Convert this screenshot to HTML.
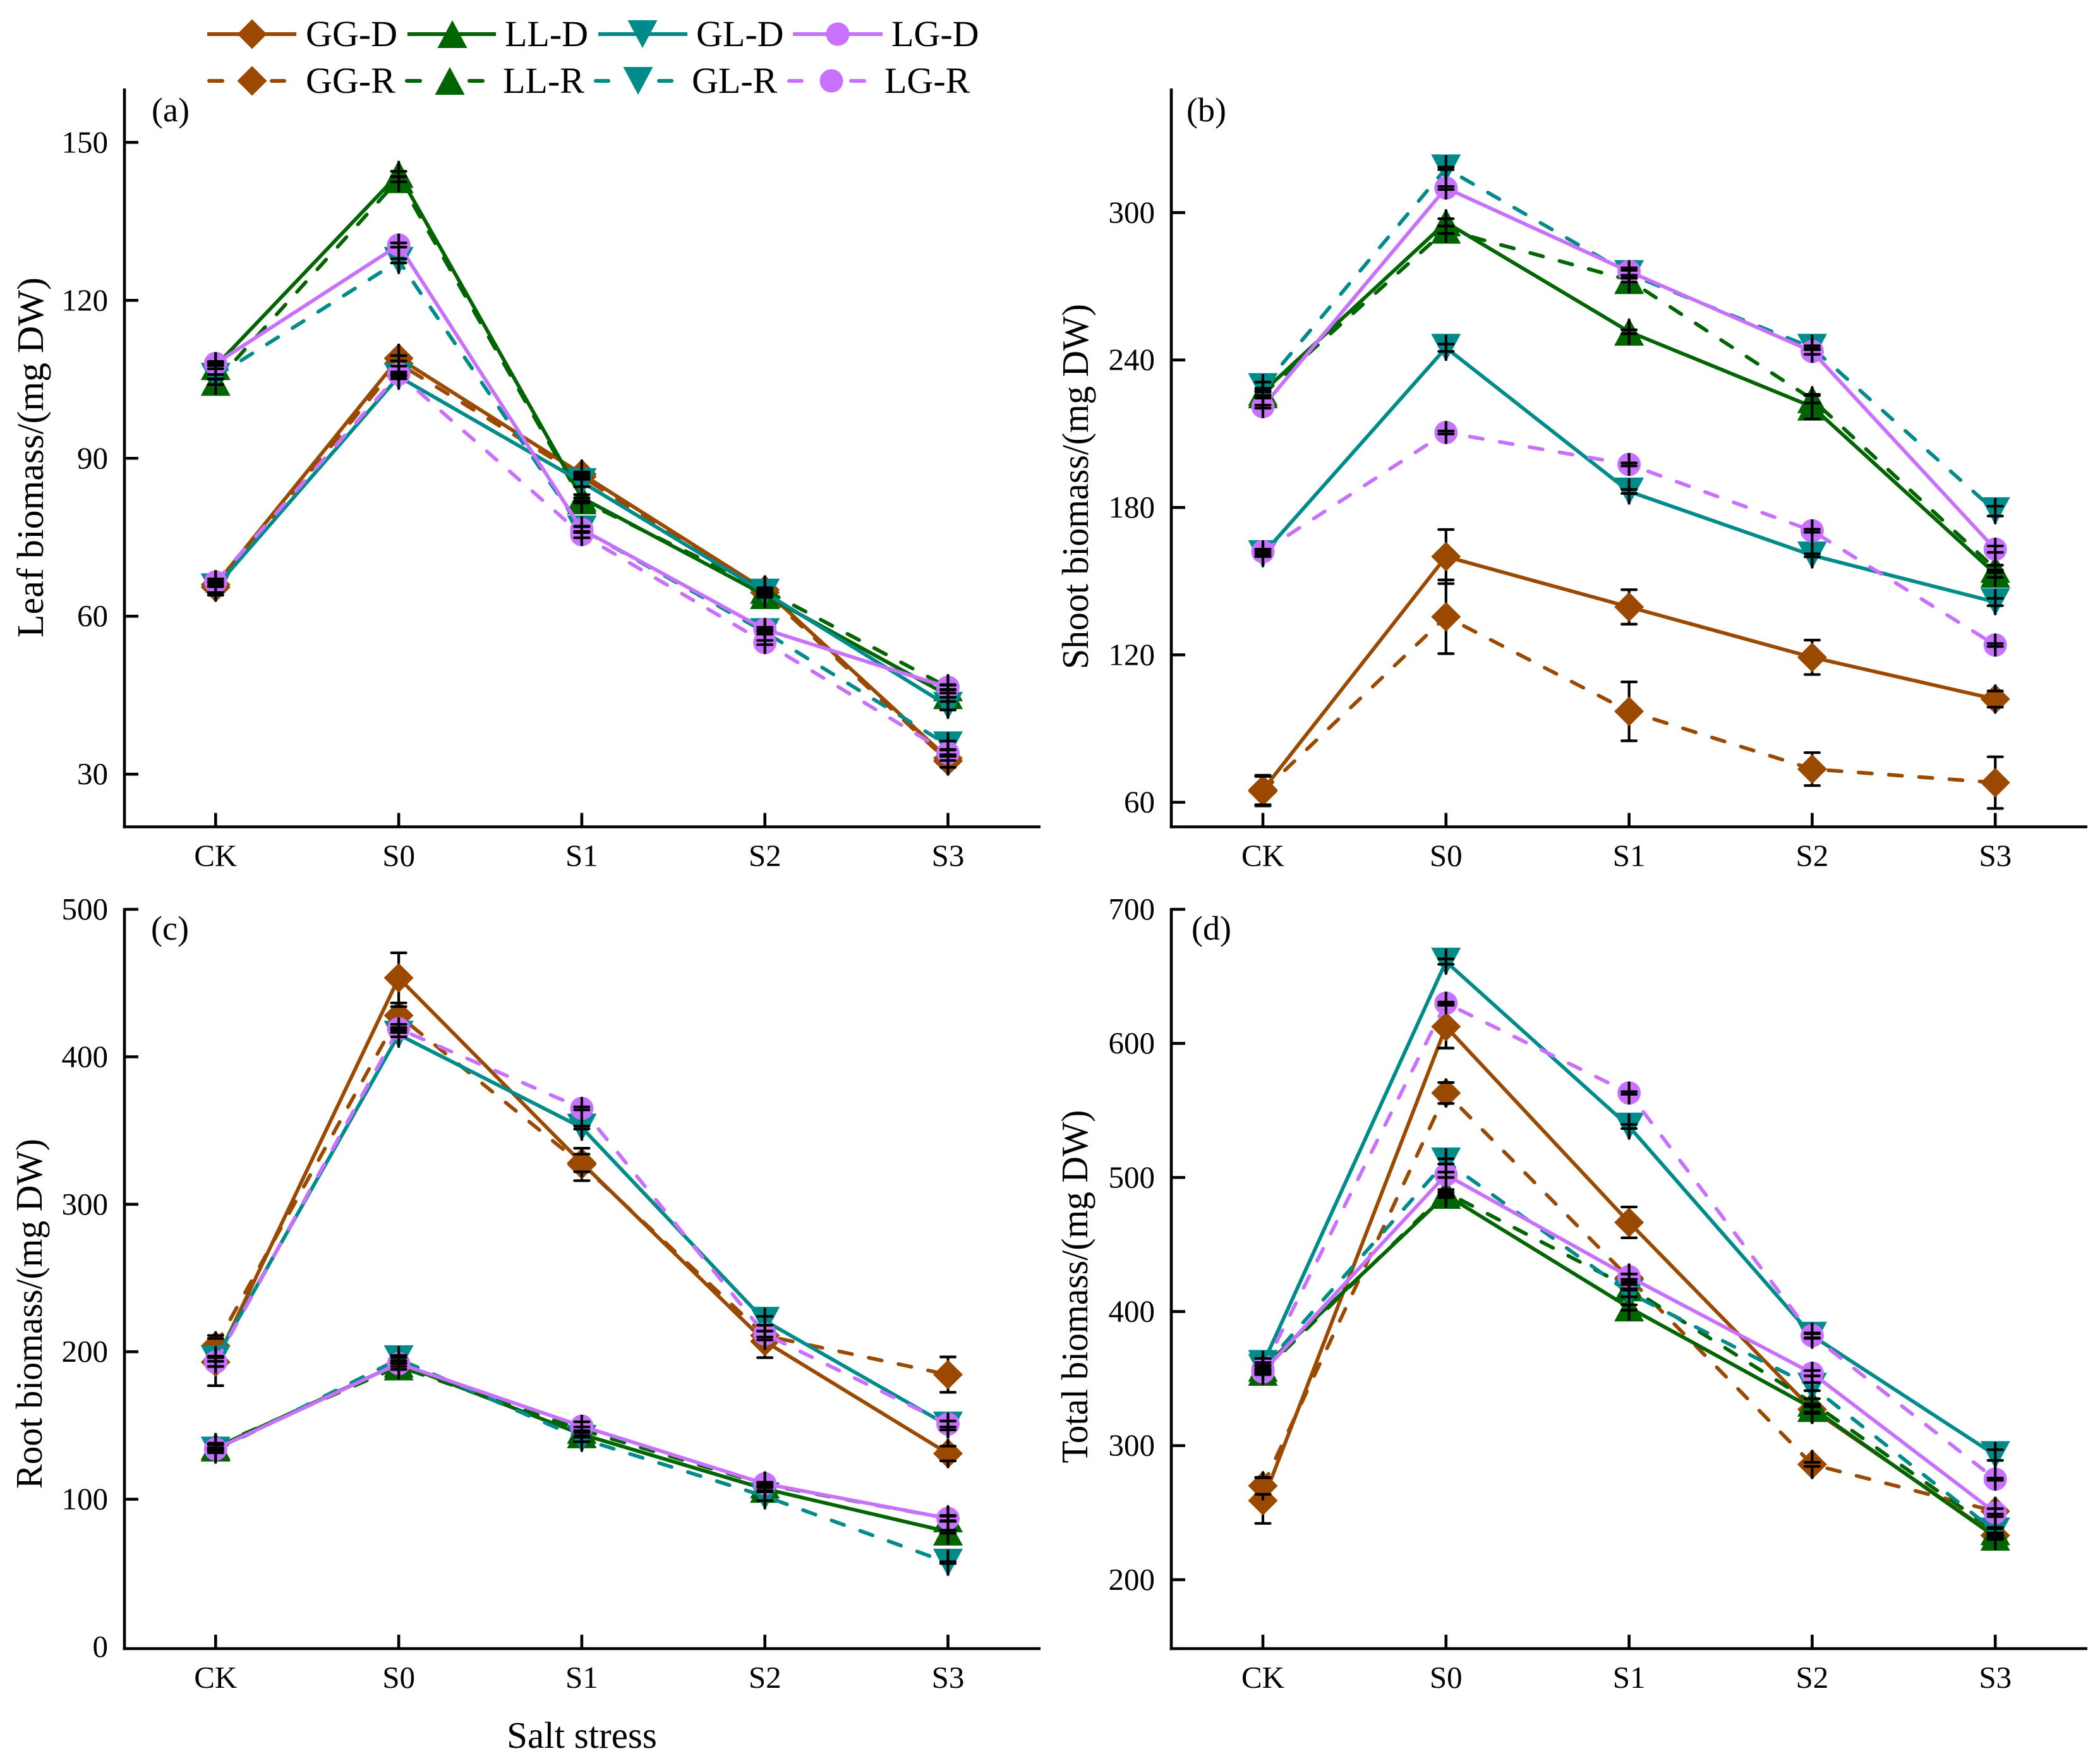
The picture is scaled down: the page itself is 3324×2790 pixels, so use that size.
<!DOCTYPE html>
<html lang="en">
<head>
<meta charset="utf-8">
<title>Biomass under salt stress</title>
<style>
html,body{margin:0;padding:0;background:#fff;}
svg{display:block;font-family:"Liberation Serif",serif;}
</style>
</head>
<body>
<svg id="figure" xmlns="http://www.w3.org/2000/svg" width="3324" height="2790" viewBox="0 0 3324 2790">
<rect x="0" y="0" width="3324" height="2790" fill="#ffffff"/>
<text x="921" y="2766" font-size="59" text-anchor="middle">Salt stress</text>
</svg>
<script>
// ---------- categories and tick labels ----------
const categories = ['CK', 'S0', 'S1', 'S2', 'S3'];
const leafTicks = [30, 60, 90, 120, 150];
const shootTicks = [60, 120, 180, 240, 300];
const rootTicks = [0, 100, 200, 300, 400, 500];
const totalTicks = [200, 300, 400, 500, 600, 700];
const leafDomain = [20, 160];
const shootDomain = [50, 350];
const rootDomain = [-1.3, 500];
const totalDomain = [148.6, 700];

// ---------- (a) leaf biomass ----------
const leafGGD = [66, 109, 87, 65, 33];
const leafGGR = [65.5, 108, 86.5, 64.5, 32.5];
const leafLLD = [107.5, 144, 82.5, 64, 45];
const leafLLR = [104.5, 143, 82, 65, 46.5];
const leafGLD = [65.5, 105.5, 85.5, 64.5, 43];
const leafGLR = [105.5, 127.5, 76.5, 57, 35.5];
const leafLGD = [108, 130.5, 76.5, 57.5, 46.5];
const leafLGR = [66.5, 106, 75.5, 55, 34];
const leafGGDerr = [0.4, 0.5, 0.4, 0.4, 0.4];
const leafGGRerr = [1.5, 0.5, 0.5, 0.4, 1.2];
const leafLLDerr = [0.5, 0.5, 0.6, 0.4, 0.4];
const leafLLRerr = [0.5, 0.5, 0.5, 0.4, 0.4];
const leafGLDerr = [1, 0.4, 0.9, 0.4, 0.8];
const leafGLRerr = [0.4, 0.4, 0.5, 0.4, 0.8];
const leafLGDerr = [0.4, 0.4, 0.6, 0.4, 0.5];
const leafLGRerr = [0.6, 0.4, 0.6, 0.4, 0.6];

// ---------- (b) shoot biomass ----------
const shootGGD = [65, 160, 139.5, 119, 102];
const shootGGR = [64.5, 135.5, 97, 73.5, 68];
const shootLLD = [227, 296, 251.5, 221, 153];
const shootLLR = [226, 293, 272.5, 224, 155];
const shootGLD = [161, 245, 186.5, 160.5, 141.5];
const shootGLR = [229, 318, 275, 245, 178.5];
const shootLGD = [221, 310, 276, 243.5, 163];
const shootLGR = [162, 210.5, 197.5, 170.5, 124];
const shootGGDerr = [6, 11, 7, 7, 3.3];
const shootGGRerr = [6, 15, 12, 6.7, 10.5];
const shootLLDerr = [1.5, 1.5, 0.8, 5, 1.5];
const shootLLRerr = [1.5, 1.5, 0.8, 1.5, 1.5];
const shootGLDerr = [1, 1.5, 0.8, 0.6, 1.5];
const shootGLRerr = [2, 0.5, 1.5, 0.8, 2];
const shootLGDerr = [0.6, 0.6, 1.5, 1.2, 1.3];
const shootLGRerr = [1, 0.6, 0.6, 0.6, 0.6];

// ---------- (c) root biomass ----------
const rootGGD = [193, 453.5, 328, 207, 131];
const rootGGR = [204, 428, 327, 211, 184.5];
const rootLLD = [135, 192, 144, 107, 78];
const rootLLR = [136, 190, 147, 110, 87];
const rootGLD = [195, 415, 352, 221, 150];
const rootGLR = [133, 195, 141, 102, 57];
const rootLGD = [134, 192, 149.5, 110.5, 87];
const rootLGR = [193, 419, 365, 212, 151];
const rootGGDerr = [16, 17, 6, 11, 5];
const rootGGRerr = [7, 6, 11, 3, 12];
const rootLLDerr = [2, 2, 2, 1, 1];
const rootLLRerr = [2, 2, 2, 1, 1.5];
const rootGLDerr = [1.5, 1.5, 1, 3, 3];
const rootGLRerr = [1.5, 2.5, 2, 3, 0.6];
const rootLGDerr = [1, 4, 3, 1, 2];
const rootLGRerr = [3, 0.8, 1, 2, 2];

// ---------- (d) total biomass ----------
const totalGGD = [259, 612.5, 466.5, 327, 233];
const totalGGR = [270, 563, 425, 286, 251];
const totalLLD = [358, 487, 403, 328, 232];
const totalLLR = [355, 489, 418, 332, 236];
const totalGLD = [361, 661, 538, 382, 293];
const totalGLR = [358, 512, 414, 344, 236];
const totalLGD = [355, 502, 426, 354, 250];
const totalLGR = [357, 630, 563, 382, 275];
const totalGGDerr = [17, 16, 11.5, 3, 2];
const totalGGRerr = [6.3, 7.8, 3, 1.5, 2];
const totalLLDerr = [2, 2, 2, 3, 2];
const totalLLRerr = [2, 2, 2, 3, 2];
const totalGLDerr = [4, 2, 1.5, 2, 4];
const totalGLRerr = [4, 2, 3, 3, 3];
const totalLGDerr = [2, 2, 2, 2, 3];
const totalLGRerr = [2, 0.8, 1, 1.5, 0.8];

// ---------- series styling ----------
const seriesNames = ['GG-D', 'GG-R', 'LL-D', 'LL-R', 'GL-D', 'GL-R', 'LG-D', 'LG-R'];
const BROWN = '#9c4900', GREEN = '#006400', TEAL = '#008b8b', PURPLE = '#c971ff';
const seriesColors = [BROWN, BROWN, GREEN, GREEN, TEAL, TEAL, PURPLE, PURPLE];
const seriesShapes = ['diamond', 'diamond', 'up', 'up', 'down', 'down', 'circle', 'circle'];

const panels = [
  { id: 'leaf', label: '(a)', title: 'Leaf biomass/(mg DW)', ticks: leafTicks, domain: leafDomain,
    values: [leafGGD, leafGGR, leafLLD, leafLLR, leafGLD, leafGLR, leafLGD, leafLGR],
    errors: [leafGGDerr, leafGGRerr, leafLLDerr, leafLLRerr, leafGLDerr, leafGLRerr, leafLGDerr, leafLGRerr],
    left: 197, right: 1647, top: 142, bottom: 1308.5, x0: 341.3, step: 289.8, titleX: 68, titleY: 724, titleLen: 570, labelX: 240, labelY: 192 },
  { id: 'shoot', label: '(b)', title: 'Shoot biomass/(mg DW)', ticks: shootTicks, domain: shootDomain,
    values: [shootGGD, shootGGR, shootLLD, shootLLR, shootGLD, shootGLR, shootLGD, shootLGR],
    errors: [shootGGDerr, shootGGRerr, shootLLDerr, shootLLRerr, shootGLDerr, shootGLRerr, shootLGDerr, shootLGRerr],
    left: 1854, right: 3304, top: 142, bottom: 1308.5, x0: 1999, step: 289.8, titleX: 1722, titleY: 770, titleLen: 578, labelX: 1878, labelY: 192 },
  { id: 'root', label: '(c)', title: 'Root biomass/(mg DW)', ticks: rootTicks, domain: rootDomain,
    values: [rootGGD, rootGGR, rootLLD, rootLLR, rootGLD, rootGLR, rootLGD, rootLGR],
    errors: [rootGGDerr, rootGGRerr, rootLLDerr, rootLLRerr, rootGLDerr, rootGLRerr, rootLGDerr, rootLGRerr],
    left: 197, right: 1647, top: 1439, bottom: 2609, x0: 341.3, step: 289.8, titleX: 66, titleY: 2079, titleLen: 554, labelX: 239, labelY: 1487 },
  { id: 'total', label: '(d)', title: 'Total biomass/(mg DW)', ticks: totalTicks, domain: totalDomain,
    values: [totalGGD, totalGGR, totalLLD, totalLLR, totalGLD, totalGLR, totalLGD, totalLGR],
    errors: [totalGGDerr, totalGGRerr, totalLLDerr, totalLLRerr, totalGLDerr, totalGLRerr, totalLGDerr, totalLGRerr],
    left: 1854, right: 3304, top: 1439, bottom: 2609, x0: 1999, step: 289.8, titleX: 1721, titleY: 2036, titleLen: 559, labelX: 1886, labelY: 1487 }
];

const svg = document.getElementById('figure');
const NS = 'http://www.w3.org/2000/svg';

function make(tag, props, parent) {
  const el = document.createElementNS(NS, tag);
  for (const k in props) el.setAttribute(k, props[k]);
  parent.appendChild(el);
  return el;
}

function drawMarker(shape, x, y, color, parent, name) {
  let el;
  if (shape === 'circle') {
    el = make('circle', { cx: x, cy: y, r: 18.5, fill: color }, parent);
  } else {
    let pts;
    if (shape === 'diamond') pts = [[x, y - 23.5], [x + 23.5, y], [x, y + 23.5], [x - 23.5, y]];
    if (shape === 'up') pts = [[x, y - 22], [x + 23.5, y + 22], [x - 23.5, y + 22]];
    if (shape === 'down') pts = [[x, y + 22], [x + 23.5, y - 22], [x - 23.5, y - 22]];
    el = make('polygon', { points: pts.map(p => p.join(',')).join(' '), fill: color }, parent);
  }
  
  
  return el;
}

function blackLine(x1, y1, x2, y2, parent, name, cap) {
  const el = make('line', { x1, y1, x2, y2, stroke: '#000', 'stroke-width': 4.2, 'stroke-linecap': cap }, parent);
  
  
  return el;
}

panels.forEach(function (p) {
  const group = make('g', {}, svg);
  
  
  const xScale = i => p.x0 + i * p.step;
  const yScale = v => p.bottom - (v - p.domain[0]) / (p.domain[1] - p.domain[0]) * (p.bottom - p.top);

  // series lines + markers
  const seriesLayer = make('g', {}, group);
  
  
  const errLayer = make('g', {}, group);
  
  

  seriesNames.forEach(function (name, s) {
    const vals = p.values[s];
    const errs = p.errors[s];
    const color = seriesColors[s];
    const dashed = name.endsWith('-R');
    const shape = seriesShapes[s];
    const isGG = shape === 'diamond';
    const reach = shape === 'circle' ? 18 : 20.5;
    const g = make('g', {}, seriesLayer);
    
    

    const pts = vals.map((v, i) => xScale(i).toFixed(1) + ',' + yScale(v).toFixed(1)).join(' ');
    const line = make('polyline', { points: pts, fill: 'none', stroke: color, 'stroke-width': 5.8,
      'stroke-linejoin': 'round', 'stroke-linecap': dashed ? 'round' : 'butt' }, g);
    if (dashed) line.setAttribute('stroke-dasharray', '21 27');
    
    

    vals.forEach(function (v, i) {
      const x = xScale(i), y = yScale(v);
      const yUp = yScale(v + errs[i]), yDn = yScale(v - errs[i]);
      const tag = name.toLowerCase() + '-' + categories[i].toLowerCase();
      if (isGG) {
        // the diamond sits over the stem between its caps
        blackLine(x, yUp, x, yDn, g, p.id + '-stem-' + tag, 'butt');
      }
      drawMarker(shape, x, y, color, g, p.id + '-marker-' + tag);

      if (isGG) {
        if (y - 23 < yUp) blackLine(x, y - 23, x, yUp, errLayer, p.id + '-stem-tip-up-' + tag, 'butt');
        if (y + 23 > yDn) blackLine(x, yDn, x, y + 23, errLayer, p.id + '-stem-tip-down-' + tag, 'butt');
      } else {
        blackLine(x, Math.min(y - reach, yUp), x, Math.max(y + reach, yDn), errLayer, p.id + '-stem-' + tag, 'butt');
      }
      blackLine(x - 11.5, yUp, x + 11.5, yUp, errLayer, p.id + '-cap-up-' + tag, 'round');
      blackLine(x - 11.5, yDn, x + 11.5, yDn, errLayer, p.id + '-cap-down-' + tag, 'round');
    });
  });

  // axes
  const axes = make('g', { stroke: '#000', 'stroke-width': 4.6, fill: 'none' }, group);
  
  
  const yAxis = make('line', { x1: p.left, y1: p.top - 2, x2: p.left, y2: p.bottom + 2.3 }, axes);
  
  
  const xAxis = make('line', { x1: p.left - 2.3, y1: p.bottom, x2: p.right, y2: p.bottom }, axes);
  
  

  p.ticks.forEach(function (t) {
    const y = yScale(t);
    if (p.bottom - y > 6) {
      const tick = make('line', { x1: p.left, y1: y, x2: p.left + 22, y2: y }, axes);
      
      
    }
    const lab = make('text', { x: p.left - 26, y: y + 16, 'font-size': 49, 'text-anchor': 'end' }, group);
    lab.textContent = String(t);
    
    
  });
  categories.forEach(function (c, i) {
    const x = xScale(i);
    const tick = make('line', { x1: x, y1: p.bottom, x2: x, y2: p.bottom - 22 }, axes);
    
    
    const lab = make('text', { x: x, y: p.bottom + 62, 'font-size': 49, 'text-anchor': 'middle' }, group);
    lab.textContent = c;
    
    
  });

  const title = make('text', { x: p.titleX, y: p.titleY, 'font-size': 59, 'text-anchor': 'middle',
    textLength: p.titleLen, lengthAdjust: 'spacingAndGlyphs',
    transform: 'rotate(-90 ' + p.titleX + ' ' + p.titleY + ')' }, group);
  title.textContent = p.title;
  
  

  const tag = make('text', { x: p.labelX, y: p.labelY, 'font-size': 54 }, group);
  tag.textContent = p.label;
  
  
});

// ---------- legend ----------
const legendGroup = make('g', {}, svg);



const legendD = [
  { s: 0, x1: 328, x2: 469, mx: 399, tx: 484 },
  { s: 2, x1: 645, x2: 785, mx: 716, tx: 799 },
  { s: 4, x1: 947, x2: 1088, mx: 1017, tx: 1102 },
  { s: 6, x1: 1255, x2: 1397, mx: 1326, tx: 1411 }
];
const legendR = [
  { s: 1, a1: 328, a2: 355, b1: 427, b2: 453, mx: 399, tx: 484 },
  { s: 3, a1: 641, a2: 668, b1: 740, b2: 767, mx: 712, tx: 796 },
  { s: 5, a1: 940, a2: 966, b1: 1040, b2: 1066, mx: 1010, tx: 1095 },
  { s: 7, a1: 1246, a2: 1272, b1: 1344, b2: 1371, mx: 1316, tx: 1400 }
];
legendD.forEach(function (e) {
  const name = seriesNames[e.s], color = seriesColors[e.s];
  const g = make('g', {}, legendGroup);
  
  
  make('line', { x1: e.x1, y1: 54, x2: e.x2, y2: 54, stroke: color, 'stroke-width': 6 }, g);
  drawMarker(seriesShapes[e.s], e.mx, 54, color, g, 'legend-marker-' + name.toLowerCase());
  const t = make('text', { x: e.tx, y: 73, 'font-size': 58 }, g);
  t.textContent = name;
  
  
});
legendR.forEach(function (e) {
  const name = seriesNames[e.s], color = seriesColors[e.s];
  const g = make('g', {}, legendGroup);
  
  
  make('line', { x1: e.a1 + 3, y1: 128, x2: e.a2 - 3, y2: 128, stroke: color, 'stroke-width': 6, 'stroke-linecap': 'round' }, g);
  make('line', { x1: e.b1 + 3, y1: 128, x2: e.b2 - 3, y2: 128, stroke: color, 'stroke-width': 6, 'stroke-linecap': 'round' }, g);
  drawMarker(seriesShapes[e.s], e.mx, 128, color, g, 'legend-marker-' + name.toLowerCase());
  const t = make('text', { x: e.tx, y: 147, 'font-size': 58 }, g);
  t.textContent = name;
  
  
});
</script>
</body>
</html>
